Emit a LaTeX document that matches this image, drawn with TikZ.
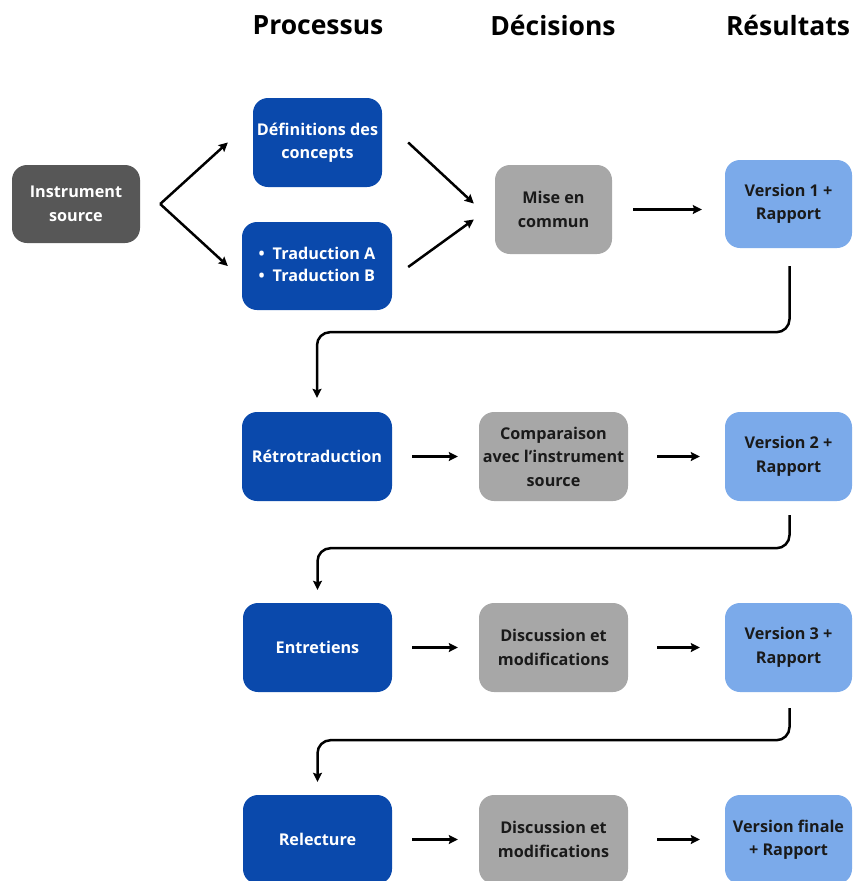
\documentclass[tikz,border=0pt]{standalone}
\usepackage{fontspec}
\setmainfont{Open Sans}
\usetikzlibrary{arrows.meta,calc}
\definecolor{cdark}{HTML}{575757}
\definecolor{cblue}{HTML}{0A49AC}
\definecolor{cgray}{HTML}{A7A7A7}
\definecolor{clight}{HTML}{7BAAEA}
\definecolor{ctext}{HTML}{1A1A1A}
\tikzset{
  box/.style={rounded corners=15pt, align=center, inner sep=0pt, font=\bfseries\fontsize{16.2}{23.5}\selectfont},
  procbox/.style={box, fill=cblue, text=white},
  decbox/.style={box, fill=cgray, text=ctext},
  resbox/.style={box, fill=clight, text=ctext},
  srcbox/.style={box, fill=cdark, text=white},
  head/.style={font=\bfseries\fontsize{26.5}{30}\selectfont, text=black},
  arr/.style={line width=2.5pt, -{Stealth[length=9pt,width=9pt,inset=1.5pt]}},
}
\begin{document}
\begin{tikzpicture}[x=1pt,y=-1pt]
\useasboundingbox (0,0) rectangle (852,881);
% headers
\node[head] (h1) at (318,25) {Processus};
\node[head] (h2) at (553,25) {Décisions};
\node[head] (h3) at (788,25) {Résultats};
% row 1
\node[srcbox, minimum width=128pt, minimum height=78pt] (src) at (76,204) {Instrument\\source};
\node[procbox, minimum width=129pt, minimum height=89pt] (def) at (317.5,142.5) {Définitions des\\concepts};
\node[procbox, minimum width=150pt, minimum height=88pt] (trad) at (317,266) {\begin{tabular}{@{}l@{}}\textbullet\hspace{8pt}Traduction A\\[-1pt]\textbullet\hspace{8pt}Traduction B\end{tabular}};
\node[decbox, minimum width=117pt, minimum height=89pt] (mise) at (553.5,209.5) {Mise en\\commun};
\node[resbox, minimum width=127pt, minimum height=88pt] (v1) at (788.5,204) {Version 1 +\\Rapport};
% row 2
\node[procbox, minimum width=150pt, minimum height=89pt] (retro) at (317,456.5) {Rétrotraduction};
\node[decbox, minimum width=149pt, minimum height=89pt] (comp) at (553.5,456.5) {Comparaison\\avec l’instrument\\source};
\node[resbox, minimum width=127pt, minimum height=89pt] (v2) at (788.5,456.5) {Version 2 +\\Rapport};
% row 3
\node[procbox, minimum width=149pt, minimum height=89pt] (entr) at (317.5,647.5) {Entretiens};
\node[decbox, minimum width=149pt, minimum height=89pt] (disc1) at (553.5,647.5) {Discussion et\\modifications};
\node[resbox, minimum width=127pt, minimum height=89pt] (v3) at (788.5,647.5) {Version 3 +\\Rapport};
% row 4
\node[procbox, minimum width=149pt, minimum height=89pt] (rel) at (317.5,839.5) {Relecture};
\node[decbox, minimum width=149pt, minimum height=89pt] (disc2) at (553.5,839.5) {Discussion et\\modifications};
\node[resbox, minimum width=127pt, minimum height=89pt] (v4) at (788.5,839.5) {Version finale\\+ Rapport};
% fork / merge coordinates
\coordinate (fork) at ($(src.east)+(20,0)$);
\coordinate (defin) at ($(def.west)+(-25,0)$);
\coordinate (tradin) at ($(trad.west)+(-14,0)$);
\coordinate (defout) at ($(def.east)+(26,0)$);
\coordinate (tradout) at ($(trad.east)+(16,1)$);
\coordinate (misein1) at ($(mise.west)+(-21,-6)$);
\coordinate (misein2) at ($(mise.west)+(-21,10)$);
\draw[arr] (fork) -- (defin);
\draw[arr] (fork) -- (tradin);
\draw[arr] (defout) -- (misein1);
\draw[arr] (tradout) -- (misein2);
% horizontal arrows
\draw[arr, shorten <=21pt, shorten >=23pt] (mise) -- (v1.west |- mise);
\draw[arr, shorten <=20pt, shorten >=21pt] (retro) -- (comp);
\draw[arr, shorten <=29pt, shorten >=25pt] (comp) -- (v2);
\draw[arr, shorten <=20pt, shorten >=21pt] (entr) -- (disc1);
\draw[arr, shorten <=29pt, shorten >=25pt] (disc1) -- (v3);
\draw[arr, shorten <=20pt, shorten >=21pt] (rel) -- (disc2);
\draw[arr, shorten <=29pt, shorten >=25pt] (disc2) -- (v4);
% return connectors
\draw[arr, rounded corners=13pt] ($(v1.south)+(1,18)$) -- ++(0,66) -| ($(retro.north)+(0,-14)$);
\draw[arr, rounded corners=13pt] ($(v2.south)+(1,14)$) -- ++(0,33) -| ($(entr.north)+(0,-13)$);
\draw[arr, rounded corners=13pt] ($(v3.south)+(1,16)$) -- ++(0,32) -| ($(rel.north)+(0,-13)$);
\end{tikzpicture}
\end{document}
